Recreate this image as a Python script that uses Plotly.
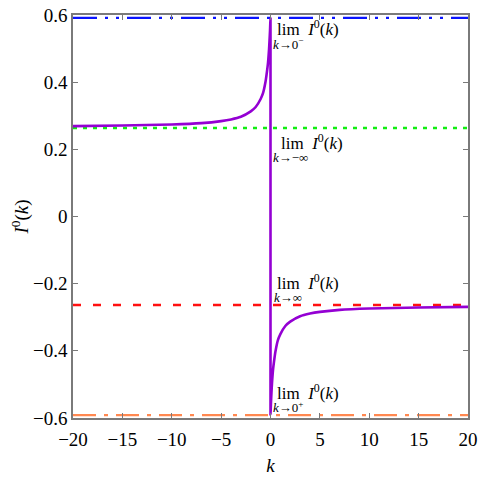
import plotly.graph_objects as go

# Curve values
k_neg = [-20, -15, -10, -7, -5, -4, -3, -2, -1.5, -1, -0.75, -0.5, -0.4, -0.25, -0.15, -0.1, -0.05, -0.02, 0]
I_neg = [0.269, 0.271, 0.274, 0.278, 0.284, 0.289, 0.297, 0.313, 0.326, 0.350, 0.368, 0.402, 0.422, 0.458, 0.497, 0.523, 0.553, 0.576, 0.589]
k_pos = [0, 0.02, 0.05, 0.1, 0.15, 0.25, 0.4, 0.5, 0.75, 1, 1.5, 2, 3, 4, 5, 7, 10, 15, 20]
I_pos = [-0.589, -0.576, -0.553, -0.523, -0.497, -0.458, -0.422, -0.402, -0.368, -0.350, -0.326, -0.313, -0.297, -0.289, -0.284, -0.278, -0.274, -0.271, -0.269]

# Limit values
lim_0minus = 0.5915
lim_minf = 0.2635
lim_inf = -0.2635
lim_0plus = -0.5915

x_range = [-20, 20]
y_range = [-0.6, 0.6]
x_ticks = [-20, -15, -10, -5, 0, 5, 10, 15, 20]
y_ticks = [-0.6, -0.4, -0.2, 0, 0.2, 0.4, 0.6]
y_ticktext = ["\u22120.6", "\u22120.4", "\u22120.2", "0", "0.2", "0.4", "0.6"]
x_ticktext = ["\u221220", "\u221215", "\u221210", "\u22125", "0", "5", "10", "15", "20"]

fig = go.Figure()

def hline(y, color, dash, width=2):
    fig.add_trace(go.Scatter(x=x_range, y=[y, y], mode="lines",
                             line=dict(color=color, dash=dash, width=width),
                             showlegend=False, hoverinfo="skip"))

hline(lim_0minus, "#0a14ff", "24px,8px,3px,8px,3px,8px", 2.4)
hline(lim_minf, "#11ee11", "4px,6px", 2.4)
hline(lim_inf, "#ff1010", "8px,12px", 2.4)
hline(lim_0plus, "#ff8850", "23px,8px,4px,8px", 2.4)

fig.add_trace(go.Scatter(x=k_neg + k_pos, y=I_neg + I_pos, mode="lines",
                         line=dict(color="#9400d3", width=2.6, shape="spline", smoothing=0.6),
                         showlegend=False))

serif = "Liberation Serif, Times New Roman, DejaVu Serif, serif"
main_font = dict(family=serif, size=17, color="black")
sub_font = dict(family=serif, size=13, color="black")
lim_main = "lim&nbsp;&nbsp;<i>I</i><sup>0</sup>(<i>k</i>)"
anns = [
    (0.45, 0.560, lim_main, main_font),
    (0.0, 0.514, "<i>k</i>\u21920<sup>\u2212</sup>", sub_font),
    (0.85, 0.222, lim_main, main_font),
    (0.1, 0.176, "<i>k</i>\u2192\u2212\u221e", sub_font),
    (0.45, -0.194, lim_main, main_font),
    (0.2, -0.240, "<i>k</i>\u2192\u221e", sub_font),
    (0.45, -0.524, lim_main, main_font),
    (0.1, -0.567, "<i>k</i>\u21920<sup>+</sup>", sub_font),
]
for x, y, t, f in anns:
    fig.add_annotation(x=x, y=y, text=t, showarrow=False, xanchor="left",
                       yanchor="middle", font=f)

axis_common = dict(showgrid=False, zeroline=False, showline=True, linecolor="#7a7a7a",
                   linewidth=1.6, mirror="ticks", ticks="inside", ticklen=5,
                   tickcolor="#7a7a7a", automargin=False, ticklabeloverflow="allow",
                   tickfont=dict(family=serif, size=19, color="black"))

fig.update_xaxes(range=x_range, tickvals=x_ticks, ticktext=x_ticktext, ticklabelstandoff=3,
                 title=dict(text="<i>k</i>", font=dict(family=serif, size=19, color="black"), standoff=10),
                 **axis_common)
fig.update_yaxes(range=y_range, tickvals=y_ticks, ticktext=y_ticktext,
                 title=dict(text="<i>I</i><sup>0</sup>(<i>k</i>)", font=dict(family=serif, size=19, color="black"), standoff=8),
                 **axis_common)

fig.update_layout(width=499, height=478, margin=dict(l=65, r=39, t=7, b=68),
                  plot_bgcolor="white", paper_bgcolor="white", template="none")

fig.write_html("out.html")
